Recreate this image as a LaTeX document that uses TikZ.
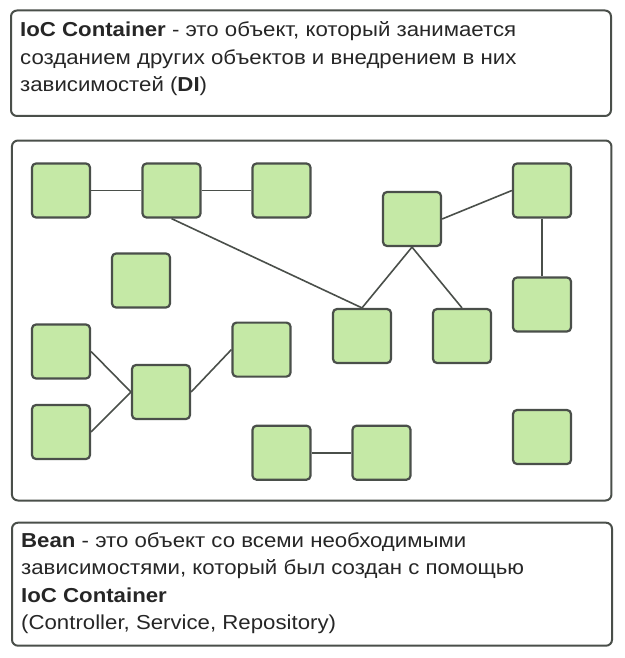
\documentclass[tikz,border=0pt]{standalone}
\usepackage{fontspec}
\setmainfont{Liberation Sans}[FakeStretch=1.1]
\usetikzlibrary{calc}

\definecolor{edgegray}{HTML}{4A4F4A}
\definecolor{beangreen}{HTML}{C5E9A6}
\definecolor{textgray}{HTML}{262626}

\tikzset{
  panel/.style={draw=edgegray,line width=2pt,rounded corners=6pt,inner sep=0pt},
  bean/.style={draw=edgegray,fill=beangreen,line width=2.2pt,rounded corners=4pt,
    minimum width=58pt,minimum height=54pt,inner sep=0pt},
  wire/.style={draw=edgegray,line width=1.6pt},
  note/.style={anchor=north west,inner sep=0pt,align=left,text=textgray,
    font=\fontsize{20.2}{27.4}\selectfont}
}

\begin{document}
\begin{tikzpicture}[x=1pt,y=-1pt]
          \useasboundingbox (0,0) rectangle (624,658);
          % boxes
          \node[panel,minimum width=600pt,minimum height=105.5pt] (iocbox) at (311,63.25) {};
          \node[panel,minimum width=599.5pt,minimum height=360pt] (container) at (311.7,320.5) {};
          \node[panel,minimum width=600pt,minimum height=123pt] (beanbox) at (312,584.2) {};
          % texts
          \node[note] (ioctext) at (20,21.5) {\textbf{IoC Container} - это объект, который занимается\\
            созданием других объектов и внедрением в них\\
            зависимостей (\textbf{DI})};
          \node[note] (beantext) at (21,532.5) {\textbf{Bean} - это объект со всеми необходимыми\\
            зависимостями, который был создан с помощью\\
            \textbf{IoC Container}\\
            (Controller, Service, Repository)};
          % beans
          \node[bean] (a) at (61,190.5) {};
          \node[bean] (b) at (171.5,190.5) {};
          \node[bean] (c) at (281.5,190.5) {};
          \node[bean] (d) at (412,219) {};
          \node[bean] (e) at (542,190.5) {};
          \node[bean] (f) at (141,280.5) {};
          \node[bean] (g) at (362,336) {};
          \node[bean] (h) at (462,336) {};
          \node[bean] (i) at (542,304.5) {};
          \node[bean] (j) at (61,351.5) {};
          \node[bean] (k) at (261.5,349.6) {};
          \node[bean] (l) at (161,392) {};
          \node[bean] (m) at (61,432) {};
          \node[bean] (n) at (281.5,452.7) {};
          \node[bean] (o) at (381.5,452.7) {};
          \node[bean] (p) at (542,437) {};
          % links
          \draw[wire] (a) -- (b);
          \draw[wire] (b) -- (c);
          \draw[wire] (b.south) -- (g.north);
          \draw[wire] (d.south) -- (g.north);
          \draw[wire] (d.south) -- (h.north);
          \draw[wire] (d.east) -- (e.west);
          \draw[wire] (e) -- (i);
          \draw[wire] (j.east) -- (l.west);
          \draw[wire] (m.east) -- (l.west);
          \draw[wire] (l.east) -- (k.west);
          \draw[wire] (n) -- (o);
        \end{tikzpicture}
\end{document}
